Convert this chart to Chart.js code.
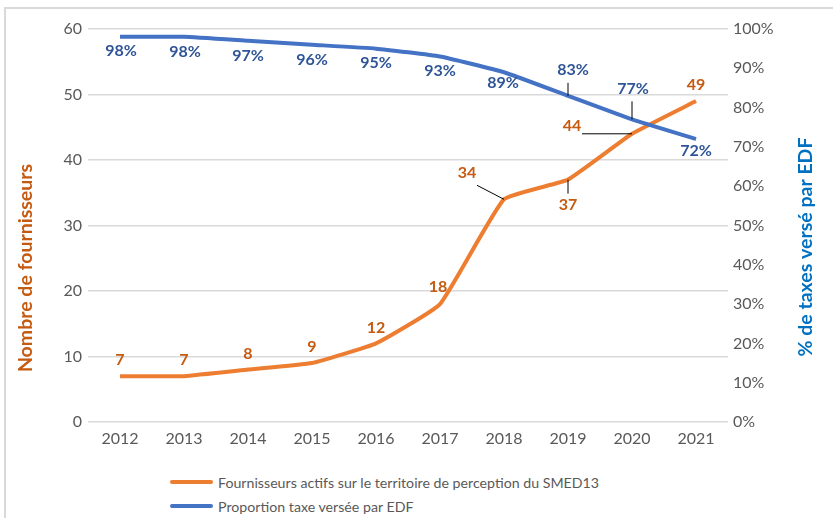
<!DOCTYPE html>
<html>
<head>
<meta charset="utf-8">
<script src="https://cdn.jsdelivr.net/npm/chart.js@4/dist/chart.umd.min.js"></script>
<style>
  body { margin: 0; background: #fff; font-family: Lato, "Open Sans", sans-serif; }
  #frame { position: absolute; left: 4px; top: 7px; width: 840px; height: 520px;
           border-left: 2px solid #d9d9d9; border-top: 2px solid #d9d9d9; }
  #wrap { position: absolute; left: 0; top: 0; width: 833px; height: 460px; }
  #legend { position: absolute; left: 170px; top: 470px; font-size: 14.2px; color: #595959; }
  .item { display: flex; align-items: center; height: 24px; }
  .swatch { width: 43px; height: 4px; border-radius: 2px; margin-right: 5px; }
</style>
</head>
<body>
<div id="frame"></div>
<div id="wrap"><canvas id="chart"></canvas></div>
<div id="legend"></div>

<script>
const years = ["2012", "2013", "2014", "2015", "2016", "2017", "2018", "2019", "2020", "2021"];
const fournisseurs = [7, 7, 8, 9, 12, 18, 34, 37, 44, 49];
const partEDF = [98, 98, 97, 96, 95, 93, 89, 83, 77, 72];

// where each data label sits, relative to its point (dx, dy), and an optional leader line start
const orangeLabelPos = [
  [0, -16], [0, -16], [0, -16], [0, -16], [0, -16], [-2, -17],
  [-37, -26, -27, -14], [0, 25, 0, 14], [-60, -8, -50, 0], [0, -16]
];
const blueLabelPos = [
  [1, 14], [1, 15], [0, 15], [0, 15], [0, 14], [0, 14], [-1, 11],
  [5, -26, 0, -13], [1, -31, 0, -18], [0, 12]
];

const ORANGE = "#ED7D31";
const BLUE = "#4472C4";

const labelPlugin = {
  id: "pointLabels",
  afterDatasetsDraw(chart) {
    const ctx = chart.ctx;
    const sets = [
      { idx: 0, pos: orangeLabelPos, color: "#C55A11", fmt: v => v },
      { idx: 1, pos: blueLabelPos, color: "#2F5597", fmt: v => v + "%" }
    ];
    ctx.save();
    ctx.font = "bold 16px Lato";
    ctx.textAlign = "center";
    ctx.textBaseline = "middle";
    sets.forEach(s => {
      const meta = chart.getDatasetMeta(s.idx);
      const values = chart.data.datasets[s.idx].data;
      meta.data.forEach((pt, i) => {
        const p = s.pos[i];
        if (p.length > 2) {
          ctx.strokeStyle = "#000";
          ctx.lineWidth = 1;
          ctx.beginPath();
          ctx.moveTo(pt.x + p[2], pt.y + p[3]);
          ctx.lineTo(pt.x, pt.y);
          ctx.stroke();
        }
        ctx.fillStyle = s.color;
        ctx.fillText(s.fmt(values[i]), pt.x + p[0], pt.y + p[1]);
      });
    });

    // axis titles
    ctx.font = "bold 19.5px Lato";
    ctx.fillStyle = "#C55A11";
    ctx.translate(26, 268);
    ctx.rotate(-Math.PI / 2);
    ctx.fillText("Nombre de fournisseurs", 0, 0);
    ctx.setTransform(1, 0, 0, 1, 0, 0);
    ctx.fillStyle = "#0070C0";
    ctx.translate(806, 247);
    ctx.rotate(-Math.PI / 2);
    ctx.fillText("% de taxes versé par EDF", 0, 0);
    ctx.restore();
  }
};

const ctx = document.getElementById("chart").getContext("2d");

const chart = new Chart(ctx, {
  type: "line",
  data: {
    labels: years,
    datasets: [{
      label: "Fournisseurs actifs sur le territoire de perception du SMED13",
      data: fournisseurs,
      borderColor: ORANGE,
      backgroundColor: ORANGE,
      borderWidth: 4,
      pointRadius: 0,
      tension: 0.12,
      yAxisID: "y",
      order: 1
    }, {
      label: "Proportion taxe versée par EDF",
      data: partEDF,
      borderColor: BLUE,
      backgroundColor: BLUE,
      borderWidth: 4,
      pointRadius: 0,
      tension: 0.12,
      yAxisID: "y1",
      order: 0
    }]
  },
  options: {
    responsive: true,
    maintainAspectRatio: false,
    animation: false,
    layout: { padding: { top: 29, left: 0, right: 0, bottom: 0 } },
    plugins: {
      legend: { display: false },
      tooltip: { enabled: false }
    },
    scales: {
      x: {
        offset: true,
        grid: { display: false, drawTicks: false },
        border: { display: false },
        ticks: { color: "#595959", font: { family: "Lato", size: 16 }, padding: 7, maxRotation: 0 },
        afterFit: s => { s.height = 38; }
      },
      y: {
        min: 0, max: 60,
        ticks: { stepSize: 10, color: "#595959", font: { family: "Lato", size: 16 }, padding: 6 },
        grid: { color: "#d9d9d9", lineWidth: 1.5, drawTicks: false },
        border: { display: false },
        afterFit: s => { s.width = 88; }
      },
      y1: {
        position: "right",
        min: 0, max: 100,
        ticks: { stepSize: 10, color: "#595959", font: { family: "Lato", size: 16 }, padding: 5,
                 callback: v => v + "%" },
        grid: { display: false, drawTicks: false },
        border: { display: false },
        afterFit: s => { s.width = 105; }
      }
    }
  },
  plugins: [labelPlugin]
});

// legend below the chart
const legendDiv = document.getElementById("legend");
chart.data.datasets.forEach(ds => {
  legendDiv.innerHTML += `<div class="item"><span class="swatch" style="background:${ds.borderColor}"></span>${ds.label}</div>`;
});
</script>
</body>
</html>
